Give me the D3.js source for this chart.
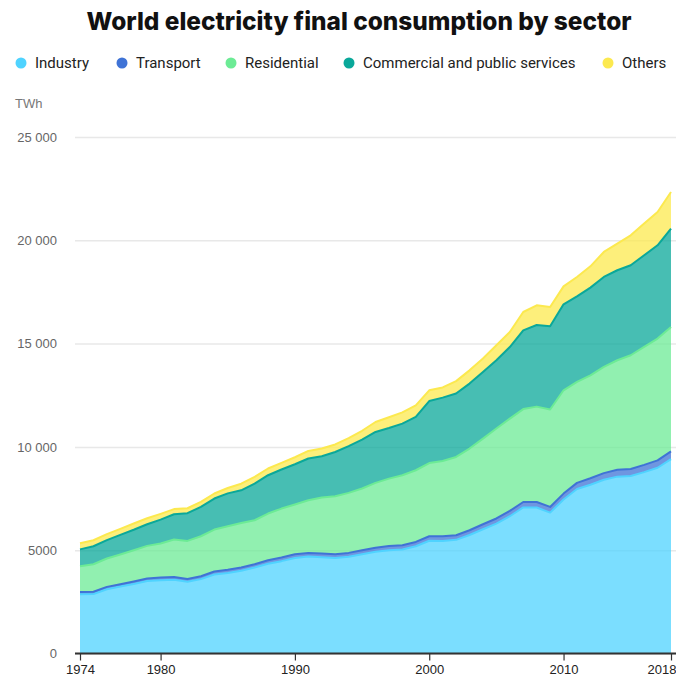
<!DOCTYPE html>
<html>
<head>
<meta charset="utf-8">
<script src="https://cdn.jsdelivr.net/npm/d3@7"></script>
<style>
  body { margin: 0; background: #fff; }
  svg { display: block; }
</style>
</head>
<body>
<div id="chart"></div>
<script>
// Data (TWh)
var years = d3.range(1974, 2019);

var industry = [2870, 2880, 3110, 3240, 3365, 3505, 3550, 3575, 3475, 3600,
                3825, 3900, 4005, 4160, 4345, 4470, 4625, 4690, 4655, 4620,
                4680, 4805, 4920, 5000, 5035, 5190, 5455, 5450, 5500, 5735,
                6015, 6290, 6645, 7070, 7065, 6820, 7450, 7960, 8170, 8410,
                8560, 8590, 8780, 8990, 9405];

var transport = [110, 110, 115, 115, 120, 125, 130, 130, 135, 140,
                 145, 150, 155, 160, 170, 175, 180, 180, 185, 185,
                 190, 195, 200, 205, 205, 210, 220, 220, 225, 230,
                 240, 245, 255, 265, 270, 275, 290, 300, 310, 320,
                 330, 340, 350, 360, 375];

var residential = [1245, 1330, 1375, 1440, 1515, 1580, 1645, 1810, 1840, 1935,
                   2030, 2110, 2160, 2130, 2260, 2370, 2405, 2550, 2710, 2805,
                   2905, 2985, 3140, 3260, 3385, 3470, 3545, 3645, 3790, 3955,
                   4145, 4355, 4470, 4495, 4615, 4715, 5000, 4885, 4985, 5140,
                   5305, 5505, 5710, 5895, 6025];

var commercial = [815, 870, 885, 950, 990, 1045, 1155, 1225, 1340, 1420,
                  1500, 1590, 1580, 1775, 1855, 1890, 1950, 2020, 2000, 2145,
                  2260, 2370, 2465, 2450, 2500, 2580, 3000, 3070, 3070, 3145,
                  3225, 3305, 3465, 3810, 3950, 4030, 4160, 4145, 4245, 4355,
                  4355, 4355, 4435, 4515, 4760];

var others = [300, 290, 290, 290, 300, 290, 280, 250, 240, 245,
              245, 260, 320, 320, 325, 320, 340, 365, 375, 365,
              390, 425, 480, 520, 545, 560, 520, 495, 600, 640,
              650, 725, 725, 890, 955, 935, 870, 935, 1030, 1210,
              1290, 1450, 1535, 1610, 1770];

var sectors = ["Industry", "Transport", "Residential", "Commercial and public services", "Others"];
var colors = ["#4fd3ff", "#3f73d6", "#6ceb95", "#0aa89a", "#fce94f"];

var yTicks = [0, 5000, 10000, 15000, 20000, 25000];
var yTickLabels = ["0", "5000", "10 000", "15 000", "20 000", "25 000"];
var xTicks = [1974, 1980, 1990, 2000, 2010, 2018];

var svgWidth = 676;
var svgHeight = 678;

var svg = d3.select("#chart")
    .append("svg")
    .attr("width", svgWidth)
    .attr("height", svgHeight);

// table for the stack layout
var rows = years.map(function(yr, i) {
    return {
        year: yr,
        "Industry": industry[i],
        "Transport": transport[i],
        "Residential": residential[i],
        "Commercial and public services": commercial[i],
        "Others": others[i]
    };
});

var series = d3.stack().keys(sectors)(rows);

var x = d3.scaleLinear().domain([1974, 2018]).range([80, 671]);
var y = d3.scaleLinear().domain([0, 25000]).range([653.5, 137]);
var color = d3.scaleOrdinal().domain(sectors).range(colors);

// Title
svg.append("text")
    .attr("x", 359)
    .attr("y", 30)
    .attr("text-anchor", "middle")
    .attr("textLength", 545)
    .attr("lengthAdjust", "spacingAndGlyphs")
    .style("font", "800 25px Inter, Roboto, sans-serif")
    .style("fill", "#111")
    .text("World electricity final consumption by sector");

// Legend (dot positions taken from the reference layout)
var legendX = [21, 122, 231, 349, 608];
var legend = svg.append("g").attr("transform", "translate(0, 63)");

legend.selectAll("circle")
    .data(sectors)
    .enter()
    .append("circle")
    .attr("cx", function(d, i) { return legendX[i]; })
    .attr("cy", 0)
    .attr("r", 5.5)
    .attr("fill", function(d) { return color(d); });

legend.selectAll("text")
    .data(sectors)
    .enter()
    .append("text")
    .attr("x", function(d, i) { return legendX[i] + 14; })
    .attr("y", 5)
    .style("font", "15px Roboto, sans-serif")
    .style("fill", "#222")
    .text(function(d) { return d; });

// Unit
svg.append("text")
    .attr("x", 15)
    .attr("y", 108)
    .style("font", "13px 'Liberation Sans', Arial, sans-serif")
    .style("fill", "#777")
    .text("TWh");

// Y axis with gridlines
svg.append("g")
    .attr("transform", "translate(75, 0)")
    .call(d3.axisLeft(y)
        .tickValues(yTicks)
        .tickFormat(function(d, i) { return yTickLabels[i]; })
        .tickSize(-601)
        .tickPadding(18))
    .call(function(g) { g.select(".domain").remove(); })
    .call(function(g) {
        g.selectAll(".tick line").attr("stroke", "#e8e8e8").attr("stroke-width", 1.5);
        g.selectAll(".tick text")
            .style("font", "13px 'Liberation Sans', Arial, sans-serif")
            .attr("fill", "#666");
    });

// Areas
var area = d3.area()
    .x(function(d) { return x(d.data.year); })
    .y0(function(d) { return y(d[0]); })
    .y1(function(d) { return y(d[1]); });

var topLine = d3.line()
    .x(function(d) { return x(d.data.year); })
    .y(function(d) { return y(d[1]); });

var layers = svg.append("g");

layers.selectAll(".layer")
    .data(series)
    .enter()
    .append("path")
    .attr("class", "layer")
    .attr("d", area)
    .attr("fill", function(d) { return color(d.key); })
    .attr("fill-opacity", 0.75);

layers.selectAll(".edge")
    .data(series)
    .enter()
    .append("path")
    .attr("class", "edge")
    .attr("d", topLine)
    .attr("fill", "none")
    .attr("stroke", function(d) { return color(d.key); })
    .attr("stroke-width", 2)
    .attr("stroke-linejoin", "round");

// X axis
var xAxis = svg.append("g")
    .attr("transform", "translate(0, 653.5)")
    .call(d3.axisBottom(x)
        .tickValues(xTicks)
        .tickFormat(d3.format("d"))
        .tickSize(7)
        .tickSizeOuter(0)
        .tickPadding(4))
    .call(function(g) { g.select(".domain").remove(); });

xAxis.selectAll(".tick line").attr("stroke", "#333").attr("stroke-width", 1.2);
xAxis.selectAll(".tick text")
    .style("font", "13px 'Liberation Sans', Arial, sans-serif")
    .attr("fill", "#222");

// last year label sits flush with the right edge
xAxis.selectAll(".tick text")
    .filter(function(d) { return d === 2018; })
    .attr("text-anchor", "end")
    .attr("x", 5);

xAxis.append("line")
    .attr("x1", 75)
    .attr("x2", 676)
    .attr("stroke", "#333")
    .attr("stroke-width", 2);
</script>
</body>
</html>
